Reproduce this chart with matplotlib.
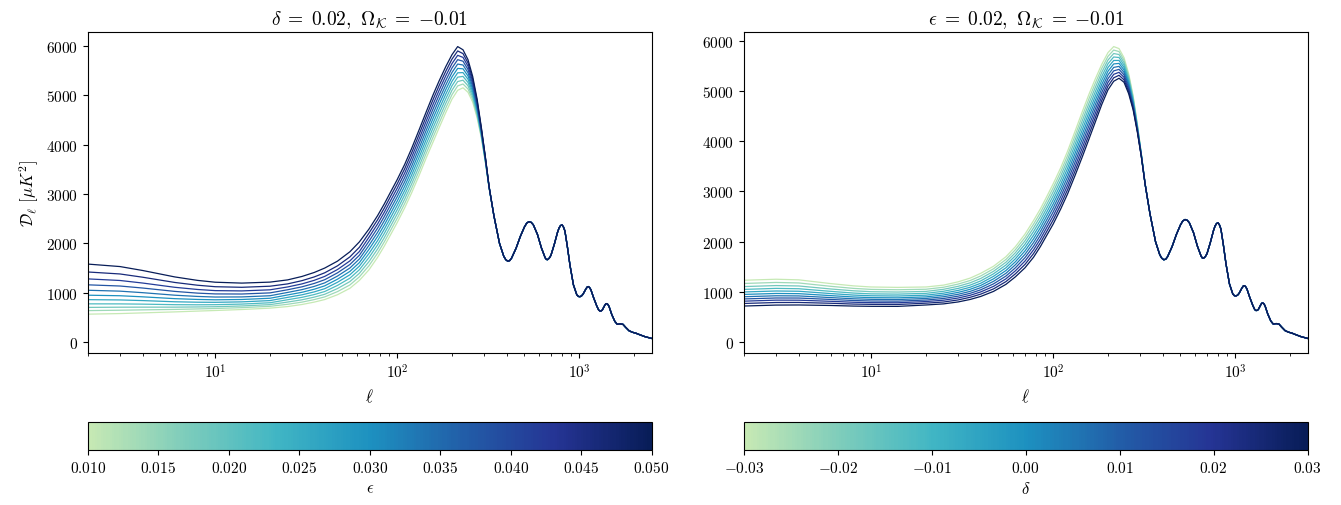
import numpy as np
import matplotlib
matplotlib.use("Agg")
import matplotlib.pyplot as plt
from matplotlib.colors import ListedColormap, Normalize
from matplotlib.cm import ScalarMappable

plt.rcParams['font.family'] = 'serif'
plt.rcParams['font.serif'] = ['cmr10', 'DejaVu Serif']
plt.rcParams['mathtext.fontset'] = 'cm'
plt.rcParams['axes.formatter.use_mathtext'] = True

# parameter values for the curves
eps_values = [0.010, 0.014, 0.018, 0.022, 0.026, 0.030, 0.034, 0.038, 0.042, 0.046, 0.050]
delta_values = [-0.030, -0.024, -0.018, -0.012, -0.006, 0.000, 0.006, 0.012, 0.018, 0.024, 0.030]

# low multipoles, where the curves differ (one row per ell, one column per curve)
ell_head = [2, 3, 4, 6, 8, 10, 14, 20, 25, 30, 35, 40, 47, 55, 62, 70, 78, 85, 92,
            100, 110, 120, 132, 145, 158, 170, 185, 200, 215, 230, 245, 260, 275,
            290, 305, 320]

D_head_eps = [
    [566, 638, 703, 775, 860, 950, 1050, 1160, 1280, 1420, 1580],
    [578, 646, 707, 774, 854, 939, 1032, 1136, 1248, 1380, 1530],
    [592, 653, 708, 769, 841, 917, 1001, 1095, 1196, 1314, 1450],
    [612, 662, 708, 758, 817, 880, 950, 1027, 1110, 1208, 1320],
    [628, 672, 712, 756, 808, 864, 925, 992, 1066, 1152, 1250],
    [640, 681, 717, 758, 806, 857, 913, 976, 1043, 1122, 1213],
    [660, 698, 732, 770, 815, 863, 915, 974, 1037, 1110, 1195],
    [688, 725, 759, 797, 841, 888, 939, 997, 1059, 1132, 1215],
    [720, 766, 811, 858, 906, 955, 1006, 1060, 1117, 1179, 1260],
    [762, 810, 857, 907, 958, 1009, 1063, 1120, 1179, 1245, 1330],
    [810, 861, 911, 963, 1017, 1071, 1128, 1188, 1251, 1320, 1410],
    [862, 916, 969, 1025, 1082, 1140, 1200, 1264, 1331, 1404, 1500],
    [960, 1023, 1085, 1148, 1212, 1274, 1338, 1403, 1470, 1545, 1640],
    [1090, 1158, 1226, 1295, 1364, 1432, 1501, 1572, 1645, 1726, 1830],
    [1250, 1322, 1394, 1466, 1539, 1610, 1684, 1759, 1835, 1921, 2030],
    [1465, 1548, 1630, 1713, 1795, 1878, 1960, 2043, 2125, 2208, 2290],
    [1715, 1800, 1884, 1969, 2053, 2138, 2222, 2307, 2391, 2476, 2560],
    [1945, 2031, 2116, 2202, 2287, 2373, 2458, 2544, 2629, 2715, 2800],
    [2175, 2262, 2348, 2435, 2521, 2608, 2694, 2781, 2867, 2954, 3040],
    [2420, 2507, 2594, 2681, 2768, 2855, 2942, 3029, 3116, 3203, 3290],
    [2720, 2808, 2896, 2984, 3072, 3160, 3248, 3336, 3424, 3512, 3600],
    [3020, 3110, 3200, 3290, 3380, 3470, 3560, 3650, 3740, 3830, 3920],
    [3375, 3468, 3560, 3653, 3745, 3838, 3930, 4023, 4115, 4208, 4300],
    [3745, 3839, 3932, 4026, 4119, 4213, 4306, 4400, 4493, 4587, 4680],
    [4065, 4161, 4256, 4352, 4447, 4543, 4638, 4734, 4829, 4925, 5020],
    [4340, 4435, 4530, 4625, 4720, 4815, 4910, 5005, 5100, 5195, 5290],
    [4650, 4743, 4836, 4929, 5022, 5115, 5208, 5301, 5394, 5487, 5580],
    [4920, 5010, 5100, 5190, 5280, 5370, 5460, 5550, 5640, 5730, 5820],
    [5100, 5189, 5277, 5366, 5454, 5543, 5631, 5720, 5808, 5897, 5985],
    [5150, 5227, 5304, 5381, 5458, 5535, 5612, 5689, 5766, 5843, 5920],
    [5060, 5126, 5192, 5258, 5324, 5390, 5456, 5522, 5588, 5654, 5720],
    [4860, 4912, 4964, 5016, 5068, 5120, 5172, 5224, 5276, 5328, 5380],
    [4540, 4578, 4616, 4654, 4692, 4730, 4768, 4806, 4844, 4882, 4920],
    [4140, 4161, 4182, 4203, 4224, 4245, 4266, 4287, 4308, 4329, 4350],
    [3650, 3661, 3672, 3683, 3694, 3705, 3716, 3727, 3738, 3749, 3760],
    [3120, 3123, 3126, 3129, 3132, 3135, 3138, 3141, 3144, 3147, 3150],
]

D_head_delta = [
    [1232, 1168, 1106, 1050, 999, 950, 904, 860, 816, 770, 719],
    [1252, 1188, 1126, 1070, 1018, 969, 923, 879, 836, 789, 738],
    [1240, 1178, 1118, 1063, 1013, 965, 920, 878, 835, 790, 740],
    [1165, 1111, 1058, 1011, 967, 926, 887, 850, 813, 774, 730],
    [1120, 1070, 1022, 977, 937, 899, 863, 829, 794, 758, 718],
    [1098, 1050, 1004, 961, 923, 886, 852, 819, 786, 752, 713],
    [1090, 1043, 997, 956, 918, 882, 848, 816, 784, 750, 712],
    [1098, 1053, 1010, 971, 935, 901, 869, 838, 808, 776, 740],
    [1135, 1093, 1052, 1013, 975, 939, 904, 869, 835, 799, 762],
    [1200, 1155, 1111, 1069, 1029, 990, 952, 915, 878, 840, 800],
    [1275, 1227, 1181, 1136, 1093, 1052, 1011, 972, 933, 893, 850],
    [1370, 1318, 1268, 1219, 1173, 1129, 1085, 1042, 1000, 956, 910],
    [1510, 1460, 1410, 1360, 1310, 1260, 1210, 1160, 1110, 1060, 1010],
    [1700, 1645, 1590, 1535, 1480, 1425, 1370, 1315, 1260, 1205, 1150],
    [1900, 1840, 1780, 1720, 1660, 1600, 1540, 1480, 1420, 1360, 1300],
    [2150, 2083, 2016, 1949, 1882, 1815, 1748, 1681, 1614, 1547, 1480],
    [2420, 2347, 2274, 2201, 2128, 2055, 1982, 1909, 1836, 1763, 1690],
    [2650, 2575, 2500, 2425, 2350, 2275, 2200, 2125, 2050, 1975, 1900],
    [2890, 2813, 2736, 2659, 2582, 2505, 2428, 2351, 2274, 2197, 2120],
    [3150, 3070, 2990, 2910, 2830, 2750, 2670, 2590, 2510, 2430, 2350],
    [3470, 3388, 3306, 3224, 3142, 3060, 2978, 2896, 2814, 2732, 2650],
    [3800, 3715, 3630, 3545, 3460, 3375, 3290, 3205, 3120, 3035, 2950],
    [4200, 4112, 4024, 3936, 3848, 3760, 3672, 3584, 3496, 3408, 3320],
    [4600, 4510, 4420, 4330, 4240, 4150, 4060, 3970, 3880, 3790, 3700],
    [4950, 4861, 4772, 4683, 4594, 4505, 4416, 4327, 4238, 4149, 4060],
    [5230, 5144, 5058, 4972, 4886, 4800, 4714, 4628, 4542, 4456, 4370],
    [5530, 5450, 5370, 5290, 5210, 5130, 5050, 4970, 4890, 4810, 4730],
    [5760, 5686, 5612, 5538, 5464, 5390, 5316, 5242, 5168, 5094, 5020],
    [5880, 5811, 5742, 5673, 5604, 5535, 5466, 5397, 5328, 5259, 5190],
    [5840, 5781, 5722, 5663, 5604, 5545, 5486, 5427, 5368, 5309, 5250],
    [5660, 5611, 5562, 5513, 5464, 5415, 5366, 5317, 5268, 5219, 5170],
    [5340, 5300, 5260, 5220, 5180, 5140, 5100, 5060, 5020, 4980, 4940],
    [4900, 4872, 4844, 4816, 4788, 4760, 4732, 4704, 4676, 4648, 4620],
    [4340, 4324, 4308, 4292, 4276, 4260, 4244, 4228, 4212, 4196, 4180],
    [3750, 3744, 3738, 3732, 3726, 3720, 3714, 3708, 3702, 3696, 3690],
    [3150, 3149, 3148, 3147, 3146, 3145, 3144, 3143, 3142, 3141, 3140],
]

# high multipoles, where all curves sit on top of each other
ell_tail = [340, 365, 385, 395, 405, 415, 425, 450, 475, 500, 515, 530, 545, 560,
            590, 620, 650, 660, 670, 685, 700, 730, 760, 775, 790, 805, 820, 835,
            860, 890, 930, 970, 990, 1010, 1030, 1050, 1090, 1110, 1125, 1140,
            1160, 1200, 1250, 1280, 1300, 1320, 1340, 1380, 1400, 1420, 1440,
            1460, 1510, 1570, 1620, 1680, 1740, 1800, 1880, 1960, 2050, 2150,
            2300, 2500]
D_tail = [2560, 2000, 1740, 1670, 1640, 1650, 1700, 1900, 2140, 2330, 2410, 2440,
          2425, 2375, 2180, 1910, 1710, 1675, 1670, 1700, 1760, 1980, 2220, 2310,
          2360, 2375, 2330, 2250, 1950, 1560, 1160, 960, 925, 920, 935, 970, 1080,
          1120, 1125, 1105, 1060, 900, 730, 650, 630, 632, 650, 740, 775, 780, 760,
          720, 560, 420, 360, 370, 360, 300, 230, 200, 180, 150, 110, 75]

cmap = ListedColormap(plt.cm.YlGnBu(np.linspace(0.25, 1.0, 256)))

fig = plt.figure(figsize=(13.41, 5.06), dpi=100)

panels = [
    (0.0656, eps_values, D_head_eps,
     r'$\delta \;=\; 0.02,\ \Omega_\mathcal{K} \;=\; {-0.01}$',
     r'$\epsilon$', [0.010, 0.015, 0.020, 0.025, 0.030, 0.035, 0.040, 0.045, 0.050], '%.3f'),
    (0.5548, delta_values, D_head_delta,
     r'$\epsilon \;=\; 0.02,\ \Omega_\mathcal{K} \;=\; {-0.01}$',
     r'$\delta$', [-0.03, -0.02, -0.01, 0.00, 0.01, 0.02, 0.03], '%.2f'),
]

for i, (left, values, head, title, clabel, cticks, cfmt) in enumerate(panels):
    ax = fig.add_axes([left, 0.3004, 0.4203, 0.6344])
    norm = Normalize(vmin=min(values), vmax=max(values))
    head_arr = np.array(head)
    for j, v in enumerate(values):
        ell = ell_head + ell_tail
        D = list(head_arr[:, j]) + D_tail
        ax.plot(ell, D, color=cmap(norm(v)), lw=0.9)
    ax.set_xscale('log')
    ax.set_xlim(2, 2500)
    ax.set_xlabel(r'$\ell$', fontsize=12)
    ax.set_title(title, fontsize=14)
    ax.tick_params(labelsize=11)
    if i == 0:
        ax.set_ylabel(r'$\mathcal{D}_\ell\ [\mu K^2]$', fontsize=12)

    cax = fig.add_axes([left, 0.1087, 0.4203, 0.0553])
    cb = fig.colorbar(ScalarMappable(norm=norm, cmap=cmap), cax=cax, orientation='horizontal')
    cb.set_ticks(cticks)
    cb.set_ticklabels(['$%s$' % (cfmt % t) for t in cticks])
    cb.ax.tick_params(labelsize=11)
    cb.set_label(clabel, fontsize=12)

fig.savefig('out.png', dpi=100)
